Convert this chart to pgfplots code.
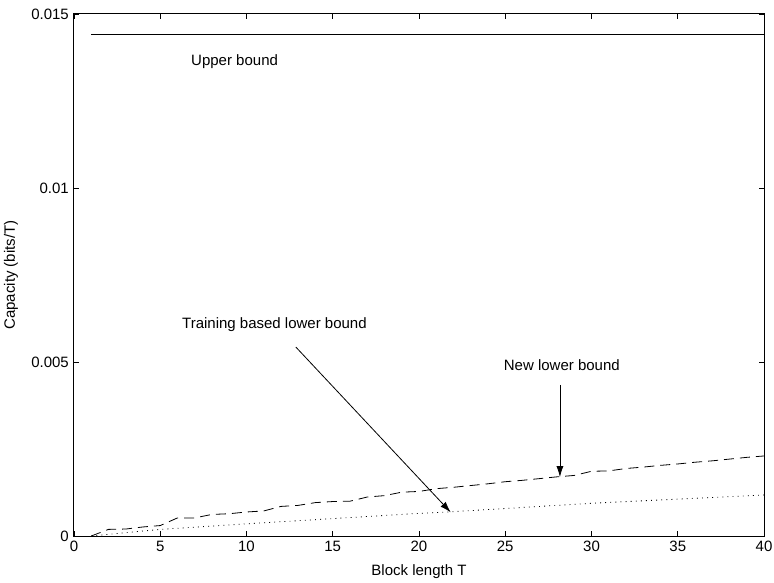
\documentclass[border=0pt]{standalone}
\usepackage{pgfplots}
\pgfplotsset{compat=1.18}
\usepackage{fontspec}
\setmainfont{Liberation Sans}
\usetikzlibrary{arrows.meta}
\begin{document}
\fontsize{15bp}{18bp}\selectfont
\begin{tikzpicture}
\begin{axis}[
  scale only axis, width=690bp, height=522bp,
  xmin=0, xmax=40, ymin=0, ymax=0.015,
  xtick={0,5,10,15,20,25,30,35,40},
  xticklabels={0,5,10,15,20,25,30,35,40},
  ytick={0,0.005,0.01,0.015},
  yticklabels={0,0.005,0.01,0.015},
  tick align=inside, major tick length=5bp,
  tick style={line width=0.8bp, black},
  axis line style={line width=1bp},
  tick label style={font=\fontsize{15bp}{18bp}\selectfont},
  label style={font=\fontsize{15bp}{18bp}\selectfont},
  xlabel={Block length T},
  ylabel={Capacity (bits/T)},
  xlabel style={at={(axis description cs:0.5,-0.069)}, anchor=center},
  ylabel style={at={(axis description cs:-0.0913,0.5)}, anchor=center},
  clip=false,
]
\addplot[black, line width=0.8bp] coordinates {(1,0.014427) (40,0.014427)};
\addplot[black, line width=0.8bp, dash pattern=on 10bp off 6bp] coordinates {
(1,0) (2,0.00019) (3,0.0002) (4,0.00026) (5,0.0003) (6,0.00052) (7,0.00052)
(8,0.00062) (9,0.00064) (10,0.00069) (11,0.00072) (12,0.00085) (13,0.00088)
(14,0.00096) (15,0.00099) (16,0.001) (17,0.00112) (18,0.00116) (19,0.00126)
(20,0.00128) (21,0.00136) (22,0.0014) (23,0.00145) (24,0.0015) (25,0.00156)
(26,0.0016) (27,0.00165) (28,0.0017) (29,0.00174) (30,0.00186) (31,0.00187)
(32,0.00194) (33,0.00198) (34,0.00203) (35,0.00207) (36,0.00212) (37,0.00216)
(38,0.00221) (39,0.00226) (40,0.0023)};
\addplot[black, line width=0.8bp, dash pattern=on 0.9bp off 4.2bp] coordinates {
(1,0) (5,0.00019) (10,0.00035) (15,0.0005) (20,0.00065) (22,0.0007) (30,0.00094) (40,0.00118)};
\node[anchor=base] at (axis cs:9.31,0.01353) {Upper bound};
\node[anchor=base] at (axis cs:11.62,0.00597) {Training based lower bound};
\node[anchor=base] at (axis cs:28.28,0.00477) {New lower bound};
\draw[-{Latex[length=11bp,width=7bp]}, line width=0.8bp] (axis cs:12.86,0.00543) -- (axis cs:21.84,0.00068);
\draw[-{Latex[length=11bp,width=7bp]}, line width=0.8bp] (axis cs:28.17,0.00434) -- (axis cs:28.17,0.00169);
\end{axis}
\pgfresetboundingbox
\useasboundingbox (-74bp,-47bp) rectangle (700bp,536bp);
\end{tikzpicture}
\end{document}
